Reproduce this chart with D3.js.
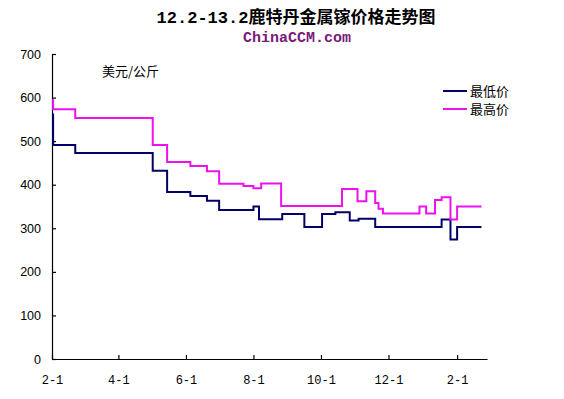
<!DOCTYPE html>
<html>
<head>
<meta charset="utf-8">
<script src="https://cdn.jsdelivr.net/npm/d3@7"></script>
<style>
  body { margin: 0; background: #fff; }
  svg { display: block; }
</style>
</head>
<body>
<div id="chart"></div>
<script>
const width = 564;
const height = 399;

const titleText = "12.2-13.2鹿特丹金属镓价格走势图";
const siteText = "ChinaCCM.com";
const unitText = "美元/公斤";
const seriesNames = ["最低价", "最高价"];
const seriesColors = ["#000066", "#ee11ee"];

// 最低价
const lowDates = ["2012-02-01", "2012-02-02", "2012-02-22", "2012-05-02", "2012-05-15", "2012-06-05",
    "2012-06-20", "2012-07-01", "2012-08-01", "2012-08-06", "2012-08-27", "2012-09-16", "2012-10-02",
    "2012-10-14", "2012-10-27", "2012-11-04", "2012-11-19", "2013-01-18", "2013-01-26", "2013-02-01",
    "2013-02-23"];
const lowValues = [561, 491, 473, 432, 383, 374, 363, 342, 350, 321, 333, 303, 333,
    337, 318, 322, 303, 320, 274, 303, 303];

// 最高价
const highDates = ["2012-02-01", "2012-02-02", "2012-02-22", "2012-05-02", "2012-05-15", "2012-06-05",
    "2012-06-20", "2012-07-01", "2012-07-23", "2012-08-01", "2012-08-08", "2012-08-26", "2012-10-20",
    "2012-11-03", "2012-11-11", "2012-11-19", "2012-11-22", "2012-11-26", "2012-12-29", "2013-01-04",
    "2013-01-12", "2013-01-18", "2013-01-26", "2013-02-01", "2013-02-23"];
const highValues = [594, 573, 553, 491, 452, 443, 431, 402, 397, 392, 403, 351, 390,
    362, 385, 358, 345, 334, 350, 334, 365, 371, 320, 350, 350];

const xTickDates = ["2012-02-01", "2012-04-01", "2012-06-01", "2012-08-01", "2012-10-01", "2012-12-01", "2013-02-01"];
const xTickLabels = ["2-1", "4-1", "6-1", "8-1", "10-1", "12-1", "2-1"];
const yTicks = [0, 100, 200, 300, 400, 500, 600, 700];

const parse = d3.timeParse("%Y-%m-%d");

const x = d3.scaleTime()
    .domain([parse("2012-02-01"), parse("2013-02-28")])
    .range([52, 487]);
const y = d3.scaleLinear()
    .domain([0, 700])
    .range([359, 54]);

const svg = d3.select("#chart")
    .append("svg")
    .attr("width", width)
    .attr("height", height);

// title
svg.append("text")
    .attr("x", 296)
    .attr("y", 23)
    .attr("text-anchor", "middle")
    .style("font-family", "'Liberation Mono', 'Noto Sans CJK SC', monospace")
    .style("font-weight", "bold")
    .style("font-size", "17px")
    .style("fill", "#000")
    .text(titleText);

svg.append("text")
    .attr("x", 297)
    .attr("y", 42)
    .attr("text-anchor", "middle")
    .style("font-family", "'Liberation Mono', monospace")
    .style("font-weight", "bold")
    .style("font-size", "15px")
    .style("fill", "#7a1a7a")
    .text(siteText);

// axes
const xAxis = d3.axisBottom(x)
    .tickValues(xTickDates.map(parse))
    .tickFormat((d, i) => xTickLabels[i])
    .tickSizeInner(-4)
    .tickSizeOuter(0)
    .tickPadding(16);

const yAxis = d3.axisLeft(y)
    .tickValues(yTicks)
    .tickSizeInner(-4)
    .tickSizeOuter(0)
    .tickPadding(11);

const gx = svg.append("g")
    .attr("transform", `translate(0,${y(0)})`)
    .call(xAxis);
gx.selectAll("text")
    .style("font-family", "'Liberation Mono', monospace")
    .style("font-size", "12px")
    .style("fill", "#000");

const gy = svg.append("g")
    .attr("transform", `translate(${x.range()[0]},0)`)
    .call(yAxis);
gy.selectAll("text")
    .style("font-family", "'Liberation Sans', Arial, sans-serif")
    .style("font-size", "12.5px")
    .style("fill", "#000");

svg.selectAll(".domain, .tick line")
    .attr("stroke", "#000")
    .attr("stroke-width", 1.2);

// unit label
svg.append("text")
    .attr("x", 102)
    .attr("y", 76)
    .style("font-family", "'Noto Sans CJK SC', sans-serif")
    .style("font-size", "13px")
    .text(unitText);

// lines
const line = d3.line()
    .x(d => x(d.date))
    .y(d => y(d.value))
    .curve(d3.curveStepAfter);

const lowData = lowDates.map((d, i) => ({ date: parse(d), value: lowValues[i] }));
const highData = highDates.map((d, i) => ({ date: parse(d), value: highValues[i] }));

[lowData, highData].forEach((data, i) => {
    svg.append("path")
        .datum(data)
        .attr("fill", "none")
        .attr("stroke", seriesColors[i])
        .attr("stroke-width", 2)
        .attr("d", line);
});

// legend
const legend = svg.append("g");
seriesNames.forEach((name, i) => {
    const ly = 91 + i * 18;
    legend.append("line")
        .attr("x1", 443).attr("x2", 467)
        .attr("y1", ly).attr("y2", ly)
        .attr("stroke", seriesColors[i])
        .attr("stroke-width", 2);
    legend.append("text")
        .attr("x", 470)
        .attr("y", ly + 5)
        .style("font-family", "'Noto Sans CJK SC', sans-serif")
        .style("font-size", "13px")
        .text(name);
});
</script>
</body>
</html>
